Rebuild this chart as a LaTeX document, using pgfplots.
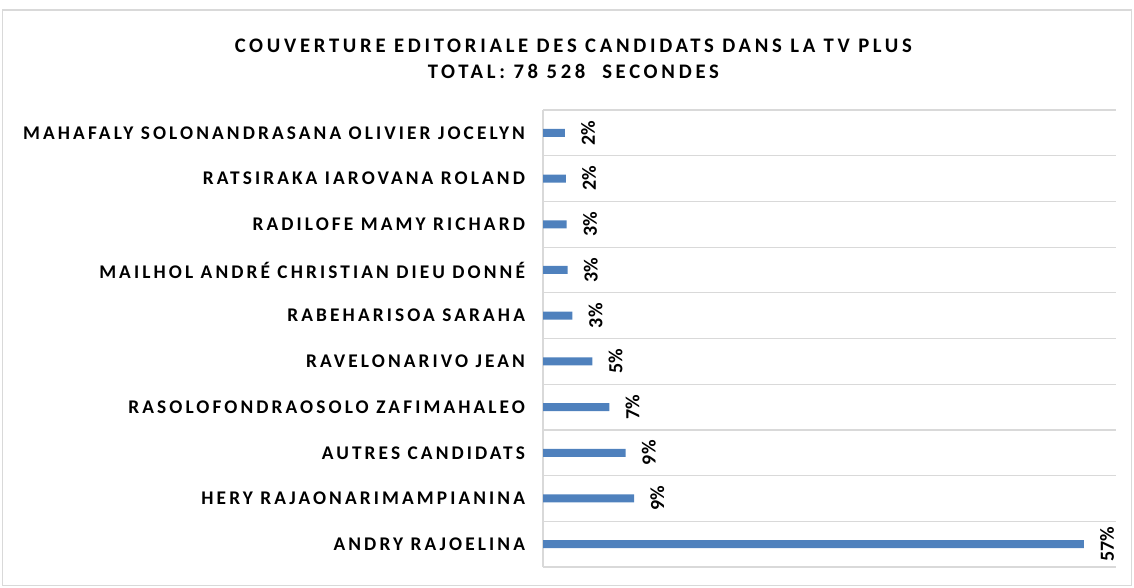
\documentclass[border=0pt]{standalone}
\usepackage{fontspec}
\setmainfont{Carlito}
\usepackage{pgfplots}
\usepackage{pgfplotstable}
\pgfplotsset{compat=1.18}

\definecolor{barblue}{HTML}{4F81BD}
\definecolor{gridgray}{HTML}{D9D9D9}

\newcommand{\lab}{\fontsize{14.5}{16}\selectfont\bfseries\addfontfeatures{LetterSpace=16}}
\newcommand{\ttl}{\fontsize{15.5}{19}\selectfont\bfseries\addfontfeatures{LetterSpace=18}}
\newcommand{\pct}{\fontsize{15}{16}\selectfont\bfseries}

% share (%), label shown
\pgfplotstableread{
y  val   lab
0  57.0  57\%
1  9.6   9\%
2  8.7   9\%
3  7.0   7\%
4  5.2   5\%
5  3.1   3\%
6  2.6   3\%
7  2.5   3\%
8  2.4   2\%
9  2.3   2\%
}\shares

\begin{document}
\begin{tikzpicture}
\path (0,0) rectangle (850.5pt,-441pt);
\draw[gridgray, line width=1.2pt] (2pt,-7.5pt) rectangle (848.5pt,-439pt);
\node[font=\ttl, align=center] at (430pt,-44pt)
  {COUVERTURE EDITORIALE DES CANDIDATS DANS LA TV PLUS\\[1pt] TOTAL: 78 528\ \ SECONDES};
\begin{axis}[
  at={(407.25pt,-425.25pt)}, anchor=south west,
  scale only axis, width=429.75pt, height=342.75pt,
  xbar, bar width=6pt,
  xmin=0, xmax=60.4, ymin=-0.5, ymax=9.5,
  axis x line=none,
  axis y line=left,
  y axis line style={gridgray, line width=1.2pt, -},
  ytick=data,
  yticklabels={ANDRY RAJOELINA, HERY RAJAONARIMAMPIANINA, AUTRES CANDIDATS,
    RASOLOFONDRAOSOLO ZAFIMAHALEO, RAVELONARIVO JEAN, RABEHARISOA SARAHA,
    MAILHOL ANDRÉ CHRISTIAN DIEU DONNÉ, RADILOFE MAMY RICHARD,
    RATSIRAKA IAROVANA ROLAND, MAHAFALY SOLONANDRASANA OLIVIER JOCELYN},
  yticklabel style={font=\lab, xshift=-10pt},
  major tick length=0pt,
  extra y ticks={-0.5,0.5,1.5,2.5,3.5,4.5,5.5,6.5,7.5,8.5,9.5},
  extra y tick labels={},
  extra y tick style={grid=major, major grid style={gridgray, line width=0.9pt}},
  point meta=explicit symbolic,
  nodes near coords,
  every node near coord/.append style={font=\pct, xshift=12pt, rotate=90, anchor=north, inner sep=0pt},
]
\addplot[draw=none, fill=barblue] table[x=val, y=y, meta=lab] {\shares};
\end{axis}
\end{tikzpicture}
\end{document}
